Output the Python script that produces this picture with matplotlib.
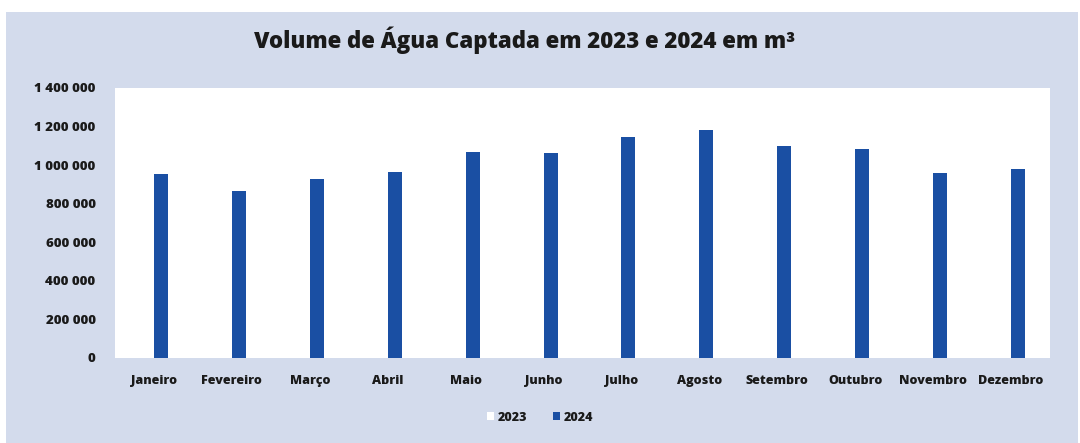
import matplotlib.pyplot as plt
from matplotlib.patches import Patch, Rectangle
from matplotlib.ticker import FuncFormatter
import numpy as np

# dados (m3)
meses = ['Janeiro', 'Fevereiro', 'Março', 'Abril', 'Maio', 'Junho', 'Julho',
         'Agosto', 'Setembro', 'Outubro', 'Novembro', 'Dezembro']
vol_2024 = [954000, 866000, 928000, 964000, 1068000, 1063000, 1146000,
            1182000, 1099000, 1083000, 959000, 980000]
yticks = [0, 200000, 400000, 600000, 800000, 1000000, 1200000, 1400000]

fundo = '#d3dbec'
azul = '#1a4fa3'

plt.rcParams['font.family'] = ['Open Sans', 'DejaVu Sans']

fig = plt.figure(figsize=(10.8, 4.43), dpi=100)
fig.patch.set_facecolor('white')
fig.add_artist(Rectangle((0.006, 0), 0.992, 0.972, transform=fig.transFigure,
                         facecolor=fundo, edgecolor='none', zorder=-10))

ax = fig.add_axes([0.1065, 0.1919, 0.8657, 0.6095])
ax.set_facecolor('white')

x = np.arange(len(meses))
w = 0.18
ax.bar(x + w / 2, vol_2024, width=w, color=azul, zorder=2)

ax.set_xlim(-0.5, len(meses) - 0.5)
ax.set_ylim(0, 1400000)
ax.set_yticks(yticks)
ax.yaxis.set_major_formatter(FuncFormatter(lambda v, p: f'{int(v):,}'.replace(',', ' ')))
ax.set_xticks(x)
ax.set_xticklabels(meses)
for s in ax.spines.values():
    s.set_visible(False)
ax.tick_params(axis='x', length=0, labelsize=9, pad=12)
ax.tick_params(axis='y', length=0, labelsize=9.5, pad=14)
for lab in ax.get_xticklabels() + ax.get_yticklabels():
    lab.set_fontweight('heavy')
    lab.set_color('#1a1a1a')

fig.text(0.486, 0.91, 'Volume de Água Captada em 2023 e 2024 em m³',
         ha='center', va='center', fontsize=16, fontweight='heavy', color='#1a1a1a')

handles = [Patch(facecolor='white', edgecolor='none', label='2023'),
           Patch(facecolor=azul, edgecolor='none', label='2024')]
leg = fig.legend(handles=handles, loc='center', bbox_to_anchor=(0.5, 0.057), ncol=2,
                 frameon=False, fontsize=9, handlelength=0.6, handleheight=0.6,
                 columnspacing=2.0, handletextpad=0.3)
for t in leg.get_texts():
    t.set_fontweight('heavy')
    t.set_color('#1a1a1a')

fig.savefig('out.png', dpi=100, facecolor=fig.get_facecolor())
